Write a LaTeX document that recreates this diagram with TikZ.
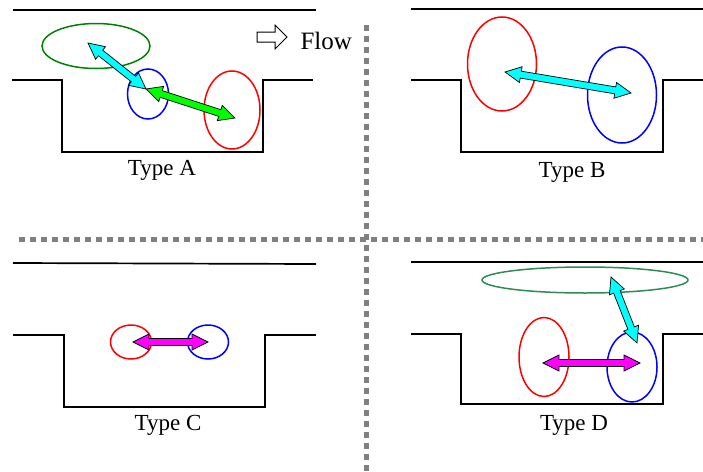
\documentclass[tikz,border=0pt]{standalone}
\usepackage{fontspec}
\setmainfont{Liberation Serif}
\usepackage{tikz}
\usetikzlibrary{calc, shapes.geometric}

\definecolor{dkgreen}{RGB}{0,128,0}
\definecolor{seagrn}{RGB}{46,139,87}
\definecolor{sepgray}{RGB}{128,128,128}
\definecolor{aqua}{RGB}{0,255,255}
\definecolor{lime}{RGB}{0,255,0}
\definecolor{pink}{RGB}{255,0,255}
\definecolor{pure red}{RGB}{255,0,0}
\definecolor{pure blue}{RGB}{0,0,255}

% double headed block arrow: #1 start, #2 end, #3 fill colour
\newcommand{\dblarr}[3]{%
  \path ($(#1)!16pt!(#2)$) coordinate (h1) ($(#2)!16pt!(#1)$) coordinate (h2);
  \filldraw[blockarr, fill=#3] (#1) -- ($(h1)!8pt!90:(#2)$) -- ($(h1)!3.5pt!90:(#2)$)
    -- ($(h2)!3.5pt!-90:(#1)$) -- ($(h2)!8pt!-90:(#1)$) -- (#2)
    -- ($(h2)!8pt!90:(#1)$) -- ($(h2)!3.5pt!90:(#1)$)
    -- ($(h1)!3.5pt!-90:(#2)$) -- ($(h1)!8pt!-90:(#2)$) -- cycle;}

\begin{document}
\begin{tikzpicture}[
  x=1pt, y=-1pt,
  every node/.style={align=center},
  wall/.style={line width=1.7pt, line join=miter},
  sep/.style={sepgray, line width=5pt, dash pattern=on 5.5pt off 5.5pt},
  ell/.style={ellipse, draw, line width=1.5pt, inner sep=0pt},
  blockarr/.style={draw=black, line width=0.7pt, line join=miter},
  lbl/.style={font=\fontsize{23}{26}\selectfont},
]
\useasboundingbox (0,0) rectangle (703,471);

% separators
\draw[sep] (19,239) -- (703,239);
\draw[sep] (366,25) -- (366,471);

% Type A
\draw[wall] (13,10) -- (316,10);
\draw[wall] (12,80) -- (62,80) -- (62,152) -- (263,152) -- (263,80) -- (313,80);
\node[ell, draw=dkgreen, minimum width=108pt, minimum height=45pt] (ga) at (96,46) {};
\node[ell, draw=pure blue, minimum width=41pt, minimum height=50pt] (ba) at (148,94) {};
\node[ell, draw=pure red, minimum width=56pt, minimum height=78pt] (ra) at (232,110) {};
\coordinate (ga-end) at (88,43);
\coordinate (ba-end) at (146,89);
\coordinate (ra-end) at (235,118);
\dblarr{ga-end}{ba-end}{aqua}
\dblarr{ba-end}{ra-end}{lime}
\node[lbl] (typea) at (162,170) {Type A};
\draw[blockarr, line width=1pt] (257,32) -- (275,32) -- (275,25) -- (287,37)
  -- (275,49) -- (275,42) -- (257,42) -- cycle;
\node[anchor=west, font=\fontsize{25}{28}\selectfont] (flow) at (297,41) {Flow};

% Type B
\draw[wall] (411,9) -- (703,9);
\draw[wall] (411,80) -- (461,80) -- (461,152) -- (663,152) -- (663,80) -- (703,80);
\node[ell, draw=pure red, minimum width=69pt, minimum height=94pt] (rb) at (502,64) {};
\node[ell, draw=pure blue, minimum width=69pt, minimum height=96pt] (bb) at (622,95) {};
\coordinate (rb-end) at (505,72);
\coordinate (bb-end) at (631,93);
\dblarr{rb-end}{bb-end}{aqua}
\node[lbl] (typeb) at (572,172) {Type B};

% Type C
\draw[wall] (13,263) -- (316,264);
\draw[wall] (13,335) -- (64,335) -- (64,407) -- (265,407) -- (265,335) -- (316,335);
\node[ell, draw=pure red, minimum width=41pt, minimum height=34pt] (rc) at (131,342) {};
\node[ell, draw=pure blue, minimum width=41pt, minimum height=34pt] (bc) at (208,342) {};
\coordinate (rc-end) at (133,342);
\coordinate (bc-end) at (208,342);
\dblarr{rc-end}{bc-end}{pink}
\node[lbl] (typec) at (168,425) {Type C};

% Type D
\draw[wall] (411,262) -- (703,262);
\draw[wall] (411,334) -- (461,334) -- (461,404) -- (663,404) -- (663,334) -- (703,334);
\node[ell, draw=seagrn, minimum width=206pt, minimum height=26pt] (gd) at (585,280) {};
\node[ell, draw=pure red, minimum width=50pt, minimum height=79pt] (rd) at (544,357) {};
\node[ell, draw=pure blue, minimum width=50pt, minimum height=70pt] (bd) at (632,367) {};
\coordinate (gd-end) at (611,277);
\coordinate (bd-top) at (637,343);
\coordinate (rd-end) at (543,363);
\coordinate (bd-end) at (640,363);
\dblarr{rd-end}{bd-end}{pink}
\dblarr{gd-end}{bd-top}{aqua}
\node[lbl] (typed) at (574,425) {Type D};

\end{tikzpicture}
\end{document}
